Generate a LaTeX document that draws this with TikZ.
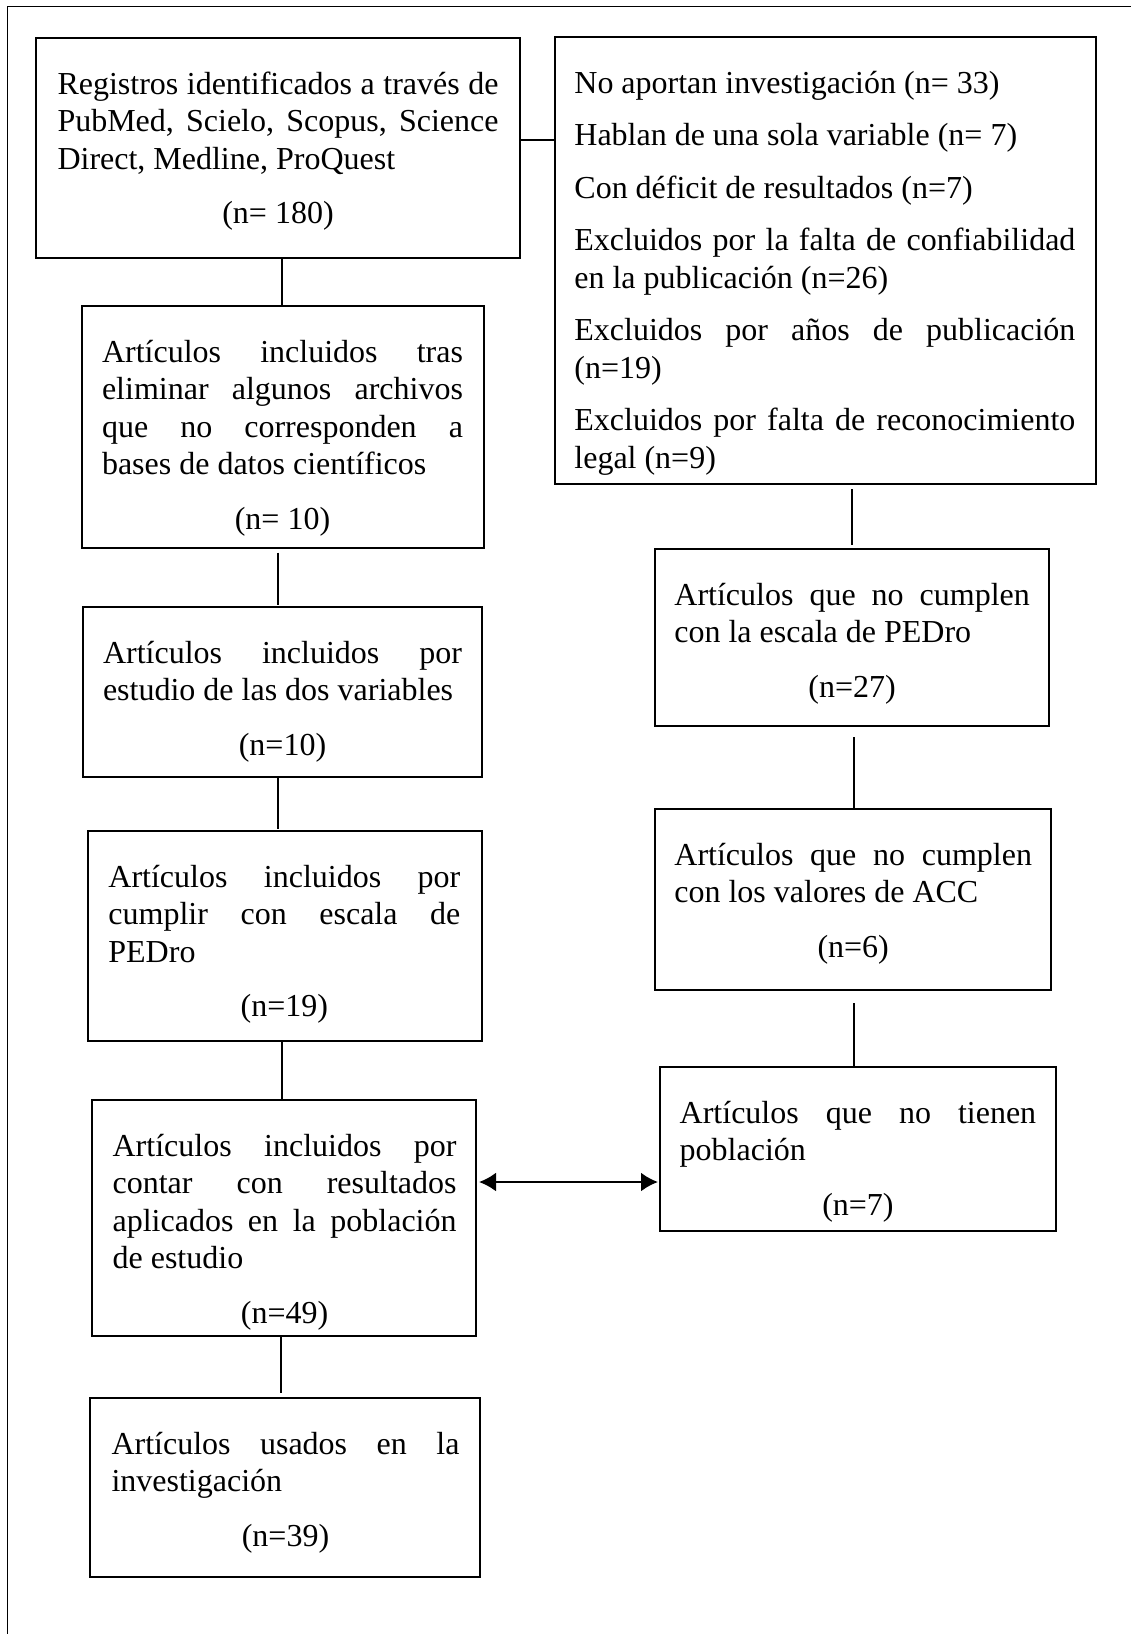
\documentclass[tikz,border=0pt]{standalone}
\usepackage{fontspec}
\setmainfont{Liberation Serif}
\usetikzlibrary{arrows.meta}
\hyphenpenalty=10000 \exhyphenpenalty=10000 \tolerance=10000 \hbadness=10000 \hfuzz=6pt
% #1 box width, #2 box height, #3 left padding, #4 text width, #5 content
\newcommand\bxc[5]{\makebox[#1pt][l]{\hspace*{#3pt}\begin{minipage}[t][#2pt][t]{#4pt}\setlength{\parskip}{0pt}\vspace*{30pt}\noindent\rule{0pt}{26pt}#5\end{minipage}}}
\newcommand\nrow[1]{\par\vspace{17pt}{\centering #1\par}}
\newcommand\pgap{\par\vspace{15pt}\noindent}
\tikzset{
  bx/.style={draw, line width=1.2pt, anchor=north west, inner sep=0pt, outer sep=0pt,
    font=\fontsize{32pt}{37.5pt}\selectfont},
  ln/.style={line width=1.3pt},
  tipa/.tip={Latex[length=17pt,width=19pt]},
  dbl/.style={line width=2.4pt, tipa-tipa}
}
\begin{document}
\begin{tikzpicture}[x=1pt,y=-1pt]
\useasboundingbox (0,0) rectangle (1131,1634);
% outer frame (top and left visible)
\draw[line width=1.2pt] (7.3,1640) -- (7.3,6.7) -- (1140,6.7);

\node[bx] (b1) at (36,38) {\bxc{484}{220}{21.5}{441}{Registros identificados a través de\linebreak PubMed, Scielo, Scopus, Science\linebreak Direct, Medline, ProQuest\nrow{(n= 180)}}};
\node[bx] (b2) at (82,306) {\bxc{402}{242}{20}{361}{Artículos incluidos tras\linebreak eliminar algunos archivos\linebreak que no corresponden a\linebreak bases de datos científicos\nrow{(n= 10)}}};
\node[bx] (b3) at (83,607) {\bxc{399}{170}{20}{359}{Artículos incluidos por\linebreak estudio de las dos variables\nrow{(n=10)}}};
\node[bx] (b4) at (88,831) {\bxc{394}{210}{20.4}{352}{Artículos incluidos por\linebreak cumplir con escala de\linebreak PEDro\nrow{(n=19)}}};
\node[bx] (b5) at (92,1100) {\bxc{384}{236}{20.6}{344}{Artículos incluidos por\linebreak contar con resultados\linebreak aplicados en la población\linebreak de estudio\nrow{(n=49)}}};
\node[bx] (b6) at (90,1398) {\bxc{390}{179}{21.5}{348}{Artículos usados en la\linebreak investigación\nrow{(n=39)}}};

\node[bx] (ex) at (555,37) {\bxc{541}{447}{19.4}{501}{No aportan investigación (n= 33)\pgap
Hablan de una sola variable (n= 7)\pgap
Con déficit de resultados (n=7)\pgap
Excluidos por la falta de confiabilidad\linebreak en la publicación (n=26)\pgap
Excluidos por años de publicación\linebreak (n=19)\pgap
Excluidos por falta de reconocimiento\linebreak legal (n=9)}};
\node[bx] (r1) at (655,549) {\bxc{394}{177}{19.4}{355.5}{Artículos que no cumplen\linebreak con la escala de PEDro\nrow{(n=27)}}};
\node[bx] (r2) at (655,809) {\bxc{396}{181}{19.4}{357.6}{Artículos que no cumplen\linebreak con los valores de ACC\nrow{(n=6)}}};
\node[bx] (r3) at (660,1067) {\bxc{396}{164}{19.7}{356.5}{Artículos que no tienen\linebreak población\nrow{(n=7)}}};

% connectors
\draw[ln] (b1.south -| 282,0) -- (b2.north -| 282,0);
\draw[ln, shorten <=4.5pt, shorten >=2pt] (b2.south -| 278,0) -- (b3.north -| 278,0);
\draw[ln, shorten >=2pt] (b3.south -| 278,0) -- (b4.north -| 278,0);
\draw[ln] (b4.south -| 282,0) -- (b5.north -| 282,0);
\draw[ln, shorten >=5pt] (b5.south -| 281,0) -- (b6.north -| 281,0);
\draw[ln] (b1.east |- 0,140) -- (ex.west |- 0,140);
\draw[ln, shorten <=5pt, shorten >=4pt] (ex.south -| 852,0) -- (r1.north -| 852,0);
\draw[ln, shorten <=11pt] (r1.south -| 854,0) -- (r2.north -| 854,0);
\draw[ln, shorten <=13pt] (r2.south -| 854,0) -- (r3.north -| 854,0);
\draw[dbl, shorten <=3pt, shorten >=2pt] (b5.east |- 0,1182) -- (r3.west |- 0,1182);
\end{tikzpicture}
\end{document}
